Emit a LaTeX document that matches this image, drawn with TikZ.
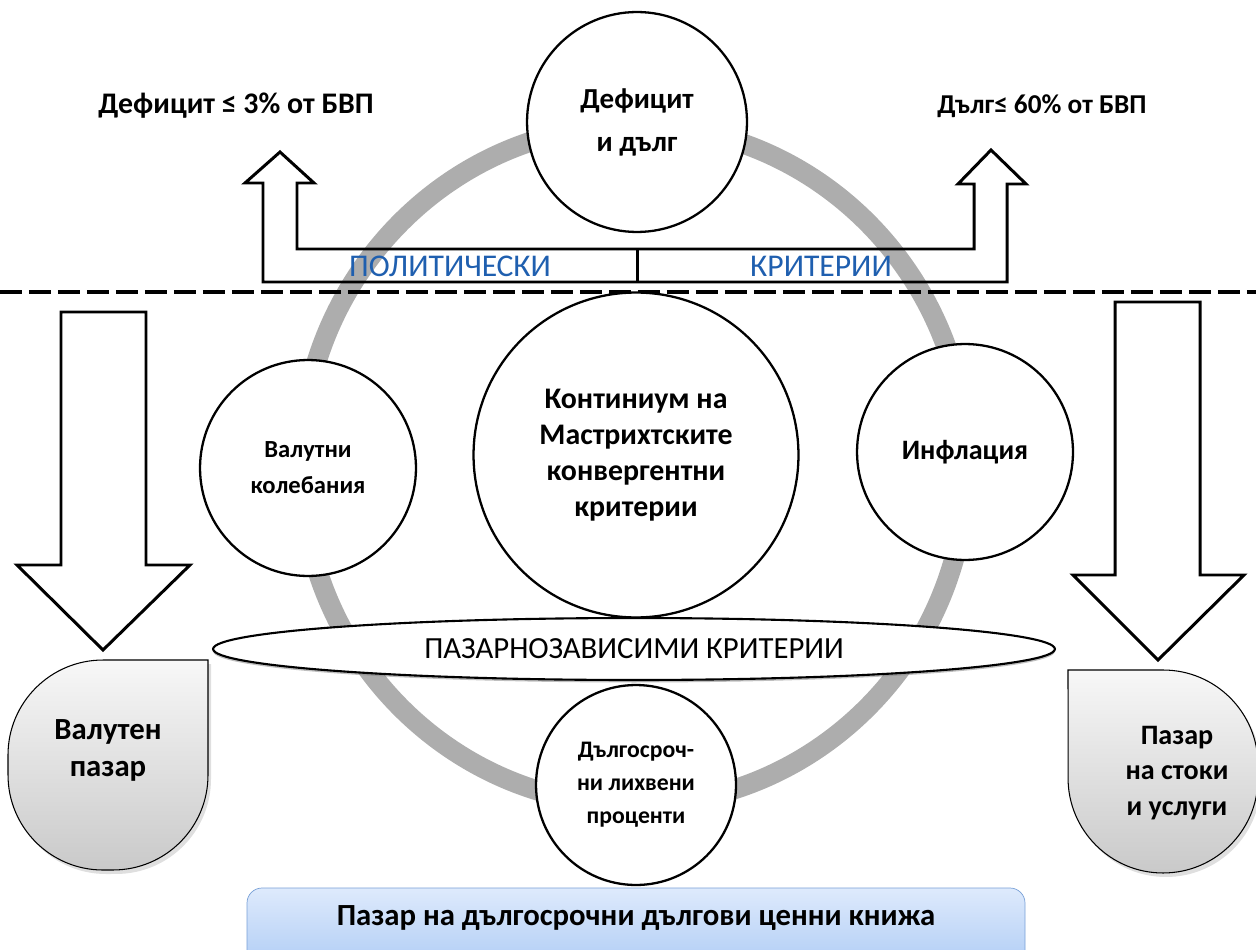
\documentclass[tikz,border=0pt]{standalone}
\usepackage{fontspec}
\setmainfont{Carlito}
\usetikzlibrary{shapes.geometric, shadows}
\definecolor{ringgray}{RGB}{173,173,173}
\definecolor{polblue}{RGB}{31,95,175}
\definecolor{boxtop}{RGB}{222,234,252}
\definecolor{boxbot}{RGB}{168,200,244}
\definecolor{boxline}{RGB}{120,160,215}
\tikzset{
  crit/.style={circle, draw, fill=white, line width=1.3pt, align=center, inner sep=0pt,
    font=\bfseries\fontsize{16}{20.5}\selectfont},
  blockarrow/.style={draw, line width=1.7pt, line join=miter},
  market/.style={draw, line width=0.6pt, top color=gray!6, bottom color=gray!42,
    drop shadow={opacity=0.25, shadow xshift=0.6mm, shadow yshift=-0.8mm}},
  marketlbl/.style={align=center, font=\bfseries\fontsize{17.5}{21}\selectfont},
  toplbl/.style={font=\bfseries\fontsize{17}{19}\selectfont},
  poltext/.style={text=polblue, inner sep=0pt, font=\fontsize{18}{20}\selectfont}
}

\begin{document}
\begin{tikzpicture}[x=0.02cm, y=-0.02cm]
\clip (0,0) rectangle (1256,949);

\draw[ringgray, line width=0.4cm] (634,465) ellipse [x radius=333, y radius=340];

\draw[blockarrow] (263,282) -- (263,183) -- (245,183) -- (280,152) -- (314,183) -- (297,183)
  -- (297,249) -- (974,249) -- (974,184) -- (958,184) -- (991,150) -- (1026,184) -- (1007,184)
  -- (1007,282) -- cycle;
\draw[blockarrow] (637,249) -- (637,282);
\node[poltext] (pol) at (450,266) {ПОЛИТИЧЕСКИ};
\node[poltext] (krit) at (821,266) {КРИТЕРИИ};

\draw[line width=0.1cm, dash pattern=on 0.44cm off 0.14cm] (0,292) -- (1256,292);

\draw[blockarrow, fill=white] (61,312) -- (146,312) -- (146,565) -- (190,565) -- (103,650)
  -- (17,565) -- (61,565) -- cycle;
\draw[blockarrow, fill=white] (1115,302) -- (1200,302) -- (1200,575) -- (1244,575) -- (1158,660)
  -- (1073,575) -- (1115,575) -- cycle;

\node[toplbl] (deflbl) at (236,106) {Дефицит ≤ 3\% от БВП};
\node[toplbl, font=\bfseries\fontsize{15.5}{18}\selectfont] (debtlbl) at (1042,106) {Дълг≤ 60\% от БВП};

\node[crit, minimum size=4.4cm, font=\bfseries\fontsize{16.5}{24.5}\selectfont] (debt) at (637,122) {Дефицит\\и дълг};
\node[crit, minimum size=4.32cm, font=\bfseries\fontsize{14}{20.5}\selectfont] (fx) at (308,468) {Валутни\\колебания};
\node[crit, minimum size=4.32cm] (infl) at (965,452) {Инфлация};
\node[crit, minimum size=6.5cm, font=\bfseries\fontsize{17}{20.5}\selectfont] (core) at (636,455)
  {Континиум на\\Мастрихтските\\конвергентни\\критерии};
\node[ellipse, draw, fill=white, line width=1.2pt, minimum width=16.84cm, minimum height=1.24cm,
  drop shadow={opacity=0.5, shadow xshift=0mm, shadow yshift=-0.5mm},
  font=\fontsize{17.5}{19}\selectfont] (mkt) at (634,649) {ПАЗАРНОЗАВИСИМИ КРИТЕРИИ};
\node[crit, minimum size=4cm, font=\bfseries\fontsize{13.5}{18.8}\selectfont] (rates) at (636,785)
  {Дългосроч-\\ни лихвени\\проценти};

\draw[market] (208,660) -- (208,775) arc[start angle=0, end angle=-90, radius=1.9cm]
  -- (103,870) arc[start angle=-90, end angle=-180, radius=1.9cm]
  -- (8,755) arc[start angle=180, end angle=90, radius=1.9cm] -- cycle;
\node[marketlbl] (fxmkt) at (108,750) {Валутен\\пазар};
\draw[market] (1068,670) -- (1163,670) arc[start angle=90, end angle=0, radius=1.9cm]
  -- (1258,778) arc[start angle=0, end angle=-90, radius=1.9cm]
  arc[start angle=-90, end angle=-180, radius=1.9cm] -- cycle;
\node[marketlbl, font=\bfseries\fontsize{16}{20}\selectfont] (goods) at (1177,773) {Пазар\\на стоки\\и услуги};

\draw[draw=boxline, top color=boxtop, bottom color=boxbot, rounded corners=0.3cm] (247,888) rectangle (1025,980);
\node[toplbl, font=\bfseries\fontsize{17.5}{19}\selectfont] (bonds) at (636,918) {Пазар на дългосрочни дългови ценни книжа};
\end{tikzpicture}
\end{document}
